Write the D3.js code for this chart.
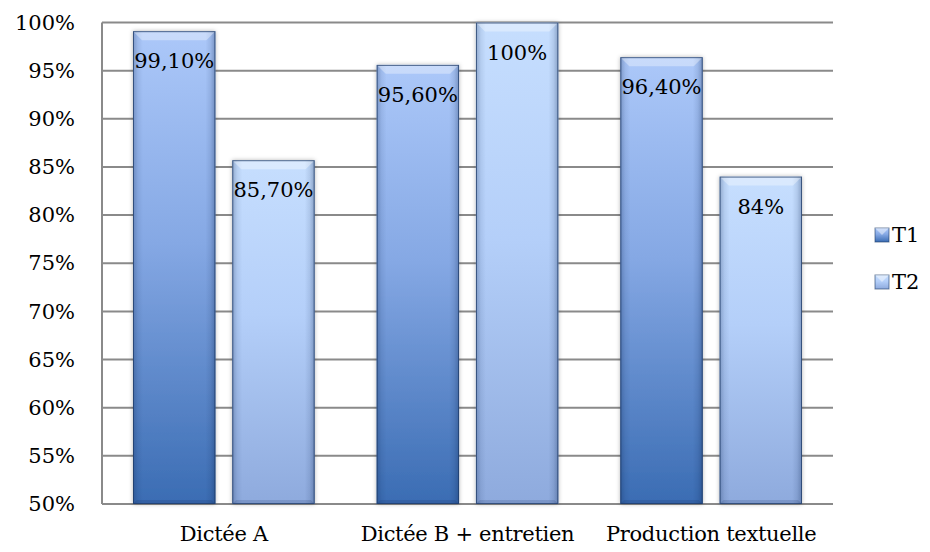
<!DOCTYPE html>
<html>
<head>
<meta charset="utf-8">
<script src="https://cdn.jsdelivr.net/npm/d3@7"></script>
<style>
  html, body { margin: 0; padding: 0; background: #fff; }
  svg { display: block; }
</style>
</head>
<body>
<svg id="chart" width="930" height="552"></svg>
<script>
// Chart data
const categories = ["Dictée A", "Dictée B + entretien", "Production textuelle"];
const seriesNames = ["T1", "T2"];
const t1Values = [99.1, 95.6, 96.4];
const t2Values = [85.7, 100, 84];
const valueLabelsT1 = ["99,10%", "95,60%", "96,40%"];
const valueLabelsT2 = ["85,70%", "100%", "84%"];
const yTicks = [50, 55, 60, 65, 70, 75, 80, 85, 90, 95, 100];

const FONT = "DejaVu Serif";
const FS = 21;

const width = 930, height = 552;
const margin = { top: 22.5, right: 97, bottom: 48, left: 102 };
const svg = d3.select("#chart");
const defs = svg.append("defs");

const innerW = width - margin.left - margin.right;
const innerH = height - margin.top - margin.bottom;

const x0 = d3.scaleBand().domain(categories).range([0, innerW]).paddingInner(0).paddingOuter(0);
const x1 = d3.scaleBand().domain(seriesNames).range([31, x0.bandwidth() - 31]).paddingInner(0.17);
const y = d3.scaleLinear().domain([50, 100]).range([innerH, 0]);

// Gradients per series (dark at base, light at top)
const palettes = {
  T1: [["0%", "#acc8f9"], ["45%", "#85a8e4"], ["100%", "#3a6cb3"]],
  T2: [["0%", "#c6defe"], ["45%", "#b4cff9"], ["100%", "#8eaadd"]]
};
Object.entries(palettes).forEach(([name, stops]) => {
  const gr = defs.append("linearGradient").attr("id", "grad-" + name)
    .attr("x1", 0).attr("y1", 0).attr("x2", 0).attr("y2", 1);
  stops.forEach(([o, c]) => gr.append("stop").attr("offset", o).attr("stop-color", c));
});
// Side shading for the bevelled look
const side = defs.append("linearGradient").attr("id", "side-shade")
  .attr("x1", 0).attr("y1", 0).attr("x2", 1).attr("y2", 0);
[["0%", 0.28], ["6%", 0.08], ["12%", 0], ["88%", 0], ["94%", 0.1], ["100%", 0.32]]
  .forEach(([o, a]) => side.append("stop").attr("offset", o).attr("stop-color", "#0b2450").attr("stop-opacity", a));
const shadow = defs.append("filter").attr("id", "bar-shadow")
  .attr("x", "-20%").attr("y", "-5%").attr("width", "140%").attr("height", "110%");
shadow.append("feDropShadow").attr("dx", 0).attr("dy", 0).attr("stdDeviation", 2)
  .attr("flood-color", "#000").attr("flood-opacity", 0.3);

const g = svg.append("g").attr("transform", `translate(${margin.left},${margin.top})`);

// Horizontal gridlines
g.append("g").selectAll("line").data(yTicks).join("line")
  .attr("x1", 0).attr("x2", innerW)
  .attr("y1", d => y(d)).attr("y2", d => y(d))
  .attr("stroke", "#8a8a8a").attr("stroke-width", 2);

// Y axis
const yAxis = g.append("g").call(d3.axisLeft(y).tickValues(yTicks).tickSize(0).tickPadding(27)
  .tickFormat(d => d + "%"));
yAxis.attr("font-family", FONT).attr("font-size", FS);
yAxis.select(".domain").attr("stroke", "#8a8a8a").attr("stroke-width", 2).attr("d", `M0,0V${innerH}`);
yAxis.selectAll("text").attr("fill", "#000");

// X axis labels
const xAxis = g.append("g").attr("transform", `translate(0,${innerH})`)
  .call(d3.axisBottom(x0).tickSize(0).tickPadding(22));
xAxis.attr("font-family", FONT).attr("font-size", FS);
xAxis.select(".domain").remove();
xAxis.selectAll("text").attr("fill", "#000").attr("letter-spacing", "-0.3px");

// Bars
const rows = categories.map((c, i) => ({
  cat: c,
  bars: [
    { s: "T1", v: t1Values[i], label: valueLabelsT1[i] },
    { s: "T2", v: t2Values[i], label: valueLabelsT2[i] }
  ]
}));

const groups = g.append("g").selectAll("g").data(rows).join("g")
  .attr("transform", d => `translate(${x0(d.cat)},0)`);

const bar = groups.selectAll("g.bar").data(d => d.bars).join("g").attr("class", "bar");
const bev = 9;
bar.each(function (d) {
  const sel = d3.select(this);
  const bx = x1(d.s), bw = x1.bandwidth();
  const by = y(d.v), bh = innerH - by;
  sel.append("rect").attr("x", bx).attr("y", by).attr("width", bw).attr("height", bh)
    .attr("fill", `url(#grad-${d.s})`).attr("filter", "url(#bar-shadow)");
  sel.append("rect").attr("x", bx).attr("y", by).attr("width", bw).attr("height", bh)
    .attr("fill", "url(#side-shade)");
  // top bevel highlight
  sel.append("path")
    .attr("d", `M${bx},${by}L${bx + bw},${by}L${bx + bw - bev},${by + bev}L${bx + bev},${by + bev}Z`)
    .attr("fill", "#fff").attr("opacity", 0.35);
  // bottom bevel darkening
  sel.append("path")
    .attr("d", `M${bx},${by + bh}L${bx + bw},${by + bh}L${bx + bw - 4},${by + bh - 4}L${bx + 4},${by + bh - 4}Z`)
    .attr("fill", "#0b2450").attr("opacity", 0.15);
  sel.append("rect").attr("x", bx + 0.5).attr("y", by + 0.5).attr("width", bw - 1).attr("height", bh - 1)
    .attr("fill", "none").attr("stroke", "#1d3a66").attr("stroke-opacity", 0.75).attr("stroke-width", 1);
  // value label inside the top of the bar
  sel.append("text").attr("x", bx + bw / 2).attr("y", by + 30)
    .attr("text-anchor", "middle").attr("dominant-baseline", "central")
    .attr("font-family", FONT).attr("font-size", FS).attr("fill", "#000").text(d.label);
});

// Legend
const legend = svg.append("g").attr("transform", `translate(875, 235)`);
seriesNames.forEach((s, i) => {
  const lg = legend.append("g").attr("transform", `translate(0, ${i * 47})`);
  lg.append("rect").attr("x", 0).attr("y", -7).attr("width", 14).attr("height", 14)
    .attr("fill", `url(#grad-${s})`).attr("stroke", "#1d3a66").attr("stroke-opacity", 0.6);
  lg.append("path").attr("d", "M0,-7L14,-7L7,0Z").attr("fill", "#fff").attr("opacity", 0.45);
  lg.append("text").attr("x", 17).attr("y", 0).attr("dominant-baseline", "central")
    .attr("font-family", FONT).attr("font-size", FS).attr("fill", "#000").text(s);
});
</script>
</body>
</html>
